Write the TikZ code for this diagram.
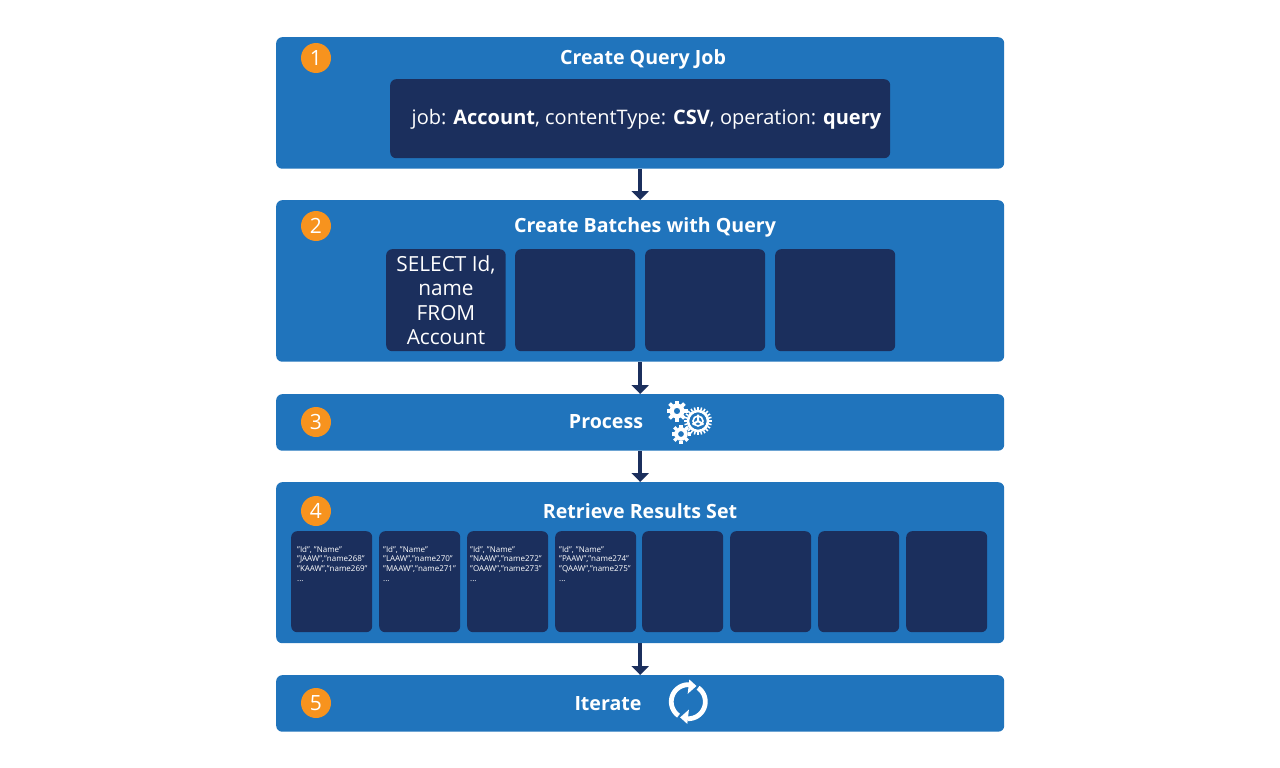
\documentclass[tikz,border=0pt]{standalone}
\usepackage{fontspec}
\setmainfont{Open Sans}
\usetikzlibrary{arrows.meta}
\definecolor{panelblue}{HTML}{2074BC}
\definecolor{navy}{HTML}{1B2F5D}
\definecolor{badge}{HTML}{F7931E}
\tikzset{
  panel/.style={fill=panelblue,draw=none,rounded corners=6pt,minimum width=728pt,inner sep=0pt,anchor=north west},
  darkbox/.style={fill=navy,draw=none,rounded corners=6pt,inner sep=0pt,anchor=north west,text=white},
  batchbox/.style={darkbox,minimum width=120pt,minimum height=102pt,align=center,font=\fontsize{20.8}{24.5}\selectfont},
  resultbox/.style={darkbox,minimum width=81pt,minimum height=101pt},
  title/.style={text=white,font=\fontsize{19.6}{24}\selectfont\bfseries,inner sep=0pt},
  numbadge/.style={circle,fill=badge,text=white,minimum size=30pt,inner sep=0pt,font=\fontsize{21}{24}\selectfont},
  flow/.style={navy,line width=3.8pt,-{Triangle[length=9pt,width=17pt]}},
  restext/.style={text=white,align=left,anchor=north west,inner sep=0pt,font=\fontsize{8}{9.6}\selectfont}
}
\begin{document}
\begin{tikzpicture}[x=1pt,y=-1pt]
\useasboundingbox (0,0) rectangle (1280,768);
\fill[white] (0,0) rectangle (1280,768);
% panels
\node[panel,minimum height=131.5pt] (p1) at (276,37) {};
\node[panel,minimum height=161.5pt] (p2) at (276,200) {};
\node[panel,minimum height=56.5pt] (p3) at (276,394) {};
\node[panel,minimum height=161pt] (p4) at (276,482) {};
\node[panel,minimum height=56.5pt] (p5) at (276,675) {};
% arrows
\draw[flow] (p1.south) -- (p2.north);
\draw[flow] (p2.south) -- (p3.north);
\draw[flow] (p3.south) -- (p4.north);
\draw[flow] (p4.south) -- (p5.north);
% badges
\node[numbadge] (n1) at (316,58) {1};
\node[numbadge] (n2) at (316,226) {2};
\node[numbadge] (n3) at (316,422) {3};
\node[numbadge] (n4) at (316,511) {4};
\node[numbadge] (n5) at (316,703) {5};
% titles
\node[title] (t1) at (643,59) {Create Query Job};
\node[title] (t2) at (645,227) {Create Batches with Query};
\node[title] (t3) at (606,422) {Process};
\node[title] (t4) at (640,511) {Retrieve Results Set};
\node[title] (t5) at (608,704) {Iterate};
% job box
\node[darkbox,minimum width=500pt,minimum height=79pt] (job) at (390,79) {};
\node[text=white,inner sep=0pt,font=\fontsize{20}{24}\selectfont] (jobtext) at (646.5,119) {job: \textbf{Account}, contentType: \textbf{CSV}, operation: \textbf{query}};
% batches
\node[batchbox,minimum width=119.5pt] (b1) at (386,249) {SELECT Id,\\name\\FROM\\Account};
\node[batchbox] (b2) at (515,249) {};
\node[batchbox] (b3) at (645,249) {};
\node[batchbox] (b4) at (775,249) {};
% results
\node[resultbox] (r1) at (291,531) {};
\node[resultbox] (r2) at (379,531) {};
\node[resultbox] (r3) at (467,531) {};
\node[resultbox] (r4) at (555,531) {};
\node[resultbox] (r5) at (642,531) {};
\node[resultbox] (r6) at (730,531) {};
\node[resultbox] (r7) at (818,531) {};
\node[resultbox] (r8) at (906,531) {};
\node[restext] (rt1) at (297,546) {"Id", "Name"\\"JAAW","name268"\\"KAAW","name269"\\...};
\node[restext] (rt2) at (383,546) {"Id", "Name"\\"LAAW","name270"\\"MAAW","name271"\\...};
\node[restext] (rt3) at (470,546) {"Id", "Name"\\"NAAW","name272"\\"OAAW","name273"\\...};
\node[restext] (rt4) at (559,546) {"Id", "Name"\\"PAAW","name274"\\"QAAW","name275"\\...};
% gears
\foreach \cx/\cy/\ro/\ri/\n/\tw in {677/411/10.5/7/8/3.6,681/434/9.5/6.5/8/3.4,698/421/14/10/24/1.5}{
  \foreach \k in {1,...,\n}{
    \draw[white,line width=\tw pt] ({\cx+\ri*cos(\k*360/\n)},{\cy+\ri*sin(\k*360/\n)}) -- ({\cx+\ro*cos(\k*360/\n)},{\cy+\ro*sin(\k*360/\n)});
  }
}
\fill[white,even odd rule] (677,411) circle[radius=7.5] circle[radius=3.2];
\fill[white,even odd rule] (681,434) circle[radius=6.8] circle[radius=3];
\fill[panelblue] (698,421) circle[radius=11];
\draw[white,line width=2.6pt] (698,421) circle[radius=10];
\draw[white,line width=1.6pt] (698,421) circle[radius=5];
\draw[white,line width=2pt] (698,421) -- (698,414.5) (698,421) -- (692.5,424.5) (698,421) -- (703.5,424.5);
% iterate icon
\draw[white,line width=4.8pt] plot[smooth,domain=125:272,samples=40] ({688.3+17*cos(\x)},{701.7+17*sin(\x)});
\draw[white,line width=4.8pt] plot[smooth,domain=-55:92,samples=40] ({688.3+17*cos(\x)},{701.7+17*sin(\x)});
\fill[white] (689.3,679.5) -- (696.5,686) -- (687.7,693.8) -- cycle;
\fill[white] (687.3,723.9) -- (680.1,717.4) -- (688.9,709.6) -- cycle;
\end{tikzpicture}
\end{document}
